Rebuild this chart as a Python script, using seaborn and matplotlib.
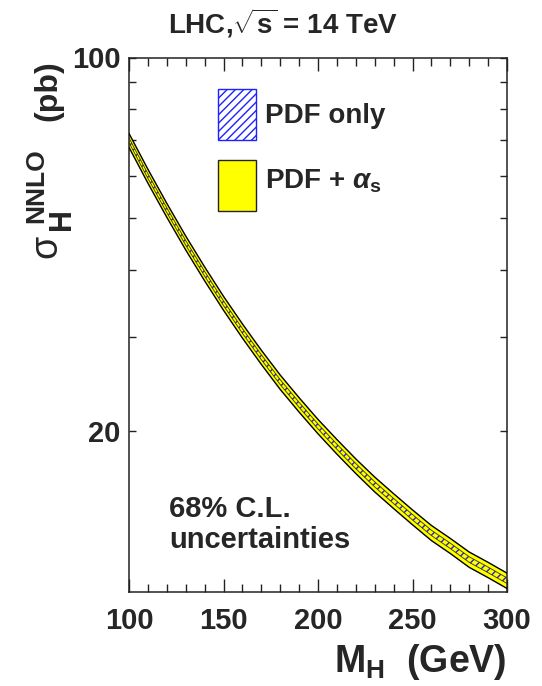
import numpy as np
import pandas as pd
import matplotlib
matplotlib.use("Agg")
import matplotlib.pyplot as plt
import seaborn as sns
from matplotlib.patches import Rectangle
from matplotlib.ticker import FixedLocator, FixedFormatter, NullFormatter

# ---- data ----
mass = [100, 110, 120, 130, 140, 150, 160, 170, 180, 190, 200,
        210, 220, 230, 240, 250, 260, 270, 280, 290, 300]
sigma = [70.0, 60.0, 51.8, 45.0, 39.4, 34.7, 30.8, 27.5, 24.7, 22.4, 20.4,
         18.7, 17.2, 15.9, 14.8, 13.8, 12.9, 12.2, 11.5, 11.0, 10.5]
pdf_only_pct = [1.0, 1.0, 1.0, 1.0, 1.0, 1.0, 1.0, 1.05, 1.05, 1.05, 1.05,
                1.1, 1.1, 1.1, 1.1, 1.15, 1.15, 1.15, 1.2, 1.2, 1.2]
pdf_as_pct = [3.0, 3.0, 3.0, 3.0, 3.0, 3.0, 3.05, 3.05, 3.1, 3.1, 3.1,
              3.15, 3.15, 3.2, 3.2, 3.2, 3.25, 3.25, 3.3, 3.3, 3.3]
x_ticks = [100, 150, 200, 250, 300]
y_major = [20, 100]
y_minor = [30, 40, 50, 60, 70, 80, 90]
legend_labels = ["PDF only", r"PDF + $\mathit{\alpha}_{\mathrm{s}}$"]
title = r"LHC,$\sqrt{\mathrm{s}}$ = 14 TeV"
note = ["68% C.L.", "uncertainties"]

sns.set_theme(style="ticks")
fam = ["Liberation Sans", "DejaVu Sans"]
plt.rcParams["font.family"] = fam
plt.rcParams["font.weight"] = "bold"
plt.rcParams["mathtext.fontset"] = "custom"
plt.rcParams["mathtext.rm"] = "Liberation Sans:bold"
plt.rcParams["mathtext.bf"] = "Liberation Sans:bold"
plt.rcParams["mathtext.it"] = "Liberation Sans:bold:italic"
plt.rcParams["hatch.linewidth"] = 1.0

df = pd.DataFrame({"mass": mass, "sigma": sigma,
                   "pdf": pdf_only_pct, "pdfas": pdf_as_pct})
df["as_hi"] = df.sigma * (1 + df.pdfas / 100)
df["as_lo"] = df.sigma * (1 - df.pdfas / 100)
df["p_hi"] = df.sigma * (1 + df.pdf / 100)
df["p_lo"] = df.sigma * (1 - df.pdf / 100)

W, H = 542, 686
fig = plt.figure(figsize=(W / 100, H / 100), dpi=100)
ax = fig.add_axes([129 / W, 1 - 592 / H, 378 / W, 534.5 / H])


def fx(px):
    return px / W


def fy(py):
    return 1 - py / H


ax.fill_between(df.mass, df.as_lo, df.as_hi, facecolor="#ffff00",
                edgecolor="none", zorder=2)
ax.fill_between(df.mass, df.p_lo, df.p_hi, facecolor="none",
                edgecolor="#2020ff", hatch="////", linewidth=0, zorder=3)
for col, c, lw in [("as_hi", "black", 1.0), ("as_lo", "black", 1.0),
                   ("p_hi", "#333300", 0.6), ("p_lo", "#333300", 0.6)]:
    sns.lineplot(data=df, x="mass", y=col, color=c, linewidth=lw, ax=ax,
                 zorder=4)

ax.set_yscale("log")
ax.set_xlim(100, 300)
ax.set_ylim(10, 100)
ax.set_xlabel("")
ax.set_ylabel("")

ax.xaxis.set_major_locator(FixedLocator(x_ticks))
ax.xaxis.set_minor_locator(FixedLocator(list(range(100, 301, 10))))
ax.yaxis.set_major_locator(FixedLocator(y_major))
ax.yaxis.set_major_formatter(FixedFormatter([str(v) for v in y_major]))
ax.yaxis.set_minor_locator(FixedLocator(y_minor))
ax.yaxis.set_minor_formatter(NullFormatter())

ax.tick_params(axis="both", which="both", direction="in", top=True,
               right=True, color="#222222", width=1.0)
ax.tick_params(axis="x", which="major", length=9.4, pad=11)
ax.tick_params(axis="x", which="minor", length=5.8)
ax.tick_params(axis="y", which="both", length=5.0, pad=6)
for lab in ax.get_xticklabels() + ax.get_yticklabels():
    lab.set_fontsize(21)
    lab.set_fontweight("bold")
for s in ax.spines.values():
    s.set_color("#222222")
    s.set_linewidth(1.1)

# legend drawn by hand
ax.add_patch(Rectangle((0.236, 0.8457), 0.0998, 0.0954, transform=ax.transAxes,
                       facecolor="white", edgecolor="#2020ff", hatch="////",
                       linewidth=1.0, zorder=5))
ax.add_patch(Rectangle((0.236, 0.7128), 0.0998, 0.0954, transform=ax.transAxes,
                       facecolor="#ffff00", edgecolor="#222222",
                       linewidth=1.0, zorder=5))
ax.text(0.36, 0.8775, legend_labels[0], transform=ax.transAxes, fontsize=20,
        fontweight="bold", va="baseline", ha="left")
ax.text(0.36, 0.7558, legend_labels[1], transform=ax.transAxes, fontsize=20,
        fontweight="bold", va="baseline", ha="left")

ax.text(0.1058, 0.1403, note[0], transform=ax.transAxes, fontsize=21,
        fontweight="bold", va="baseline", ha="left")
ax.text(0.1058, 0.0823, note[1], transform=ax.transAxes, fontsize=21,
        fontweight="bold", va="baseline", ha="left")

fig.text(fx(168), fy(33), title, fontsize=20, fontweight="bold",
         ha="left", va="baseline")

ax.text(1.0, -0.1497, r"M$_{\mathbf{H}}$  (GeV)", transform=ax.transAxes,
        fontsize=27, fontweight="bold", ha="right", va="baseline")

# y label composed of rotated pieces: sigma, subscript H, superscript NNLO, (pb)
fig.text(fx(48), fy(60), "(pb)", fontsize=23, fontweight="bold",
         rotation=90, ha="center", va="top")
fig.text(fx(36), fy(148), "NNLO", fontsize=19, fontweight="bold",
         rotation=90, ha="center", va="top")
fig.text(fx(62), fy(208), "H", fontsize=22, fontweight="bold",
         rotation=90, ha="center", va="top")
fig.text(fx(46), fy(235), "\u03c3", fontsize=27, fontweight="normal",
         rotation=90, ha="center", va="top")

fig.savefig("out.png", dpi=100)
